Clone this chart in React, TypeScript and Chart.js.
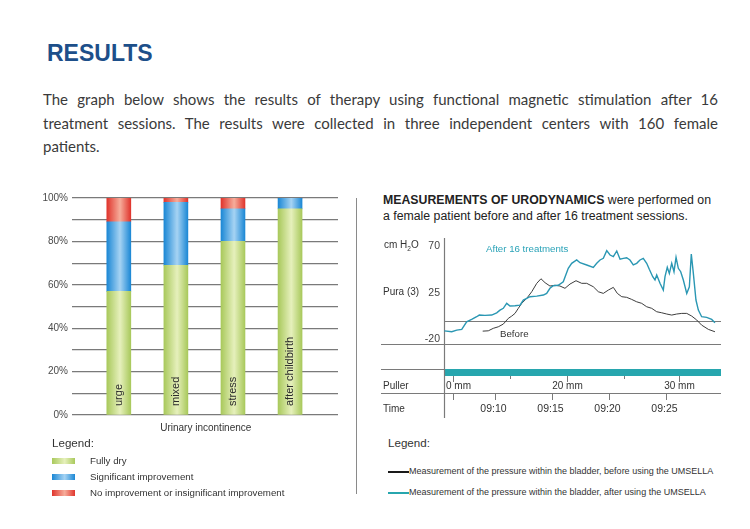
import React, { useEffect, useRef } from 'react';
import { Chart, registerables } from 'chart.js';

Chart.register(...registerables);

const FONT = '"Liberation Sans", Arial, Helvetica, sans-serif';
Chart.defaults.font.family = FONT;

// ---------- Bar chart data ----------
const categories = ['urge', 'mixed', 'stress', 'after childbirth'];
const fullyDry = [57, 69, 80, 95];
const significantImprovement = [32, 29, 15, 5];
const noImprovement = [11, 2, 5, 0];
const percentTicks = [0, 20, 40, 60, 80, 100];

// ---------- Urodynamics data (x: minutes after 09:00, y: cm H2O) ----------
const afterTime = [5.55, 6.2, 6.64, 7.08, 7.51, 7.95, 8.39, 8.62, 9.12, 9.71, 10.15, 10.44, 10.73, 11.03, 11.32, 11.76, 12.2, 12.49, 12.79, 13.08, 13.67, 14.25, 14.54, 14.83, 15.12, 15.56, 16.0, 16.44, 16.74, 17.18, 17.47, 18.06, 18.64, 18.94, 19.23, 19.52, 19.82, 20.11, 20.4, 20.7, 20.99, 21.28, 21.57, 21.86, 22.15, 22.45, 22.74, 23.03, 23.33, 23.56, 23.86, 24.06, 24.21, 24.5, 24.79, 24.94, 25.14, 25.32, 25.53, 25.73, 25.91, 26.11, 26.32, 26.55, 26.85, 27.08, 27.25, 27.43, 27.66, 27.87, 28.16, 28.6, 29.04, 29.33];
const afterPressure = [-11.8, -12.7, -11.1, -10.4, -3.1, -0.8, 1.8, 3.4, 3.1, 3.4, 5.6, 8.2, 9.9, 14.7, 12.1, 12.4, 13.0, 17.9, 19.5, 21.1, 21.7, 22.7, 24.3, 29.2, 31.7, 32.1, 35.5, 48.5, 53.3, 56.5, 53.9, 51.7, 49.4, 53.3, 56.5, 58.1, 65.5, 61.3, 59.7, 65.2, 57.2, 58.1, 58.7, 56.5, 51.7, 53.3, 56.5, 58.1, 53.3, 47.5, 40.4, 37.2, 42.0, 34.0, 27.5, 40.4, 49.4, 43.6, 53.3, 45.2, 59.1, 48.5, 45.2, 37.2, 24.3, 30.7, 62.3, 43.6, 17.9, 8.2, 1.8, 1.2, -0.8, -4.0];
const beforeTime = [8.92, 9.41, 9.85, 10.29, 10.73, 11.17, 11.47, 11.76, 12.05, 12.35, 12.79, 13.23, 13.67, 14.04, 14.4, 14.83, 15.27, 15.71, 16.15, 16.59, 17.12, 17.62, 18.06, 18.64, 19.08, 19.52, 19.96, 20.4, 20.75, 21.14, 21.57, 22.01, 22.45, 22.89, 23.33, 23.77, 24.21, 24.65, 25.09, 25.53, 25.97, 26.41, 26.85, 27.29, 27.73, 28.16, 28.75, 29.33];
const beforePressure = [-12.1, -11.8, -9.4, -7.9, -5.3, 0.2, 2.4, 5.0, 9.9, 14.7, 19.5, 25.9, 34.0, 38.4, 34.6, 31.4, 32.1, 31.4, 29.2, 33.3, 36.5, 34.0, 34.0, 30.7, 25.9, 24.3, 27.5, 30.1, 24.3, 21.1, 20.5, 18.5, 16.2, 14.7, 11.4, 9.9, 6.6, 5.6, 4.4, 3.4, 4.4, 5.0, 5.0, 2.4, -1.4, -6.3, -10.4, -12.7];
const pressureTicks = [-20, 25, 70];
const baselineValue = -2;
const timeTickValues = [6.34, 10, 15, 20, 25];
const timeTickLabels = ['', '09:10', '09:15', '09:20', '09:25'];
const pullerTickValues = [6.34, 11.3, 16.3, 21.3, 26.2];
const pullerTickLabels = ['0 mm', '', '20 mm', '', '30 mm'];

const GREEN = ['#a9c95c', '#e6f0bc'];
const BLUE = ['#1c88d5', '#a6d3f3'];
const RED = ['#e0352d', '#f6ad9b'];
const TEAL_LINE = '#2a97b3';
const TEAL_BAR = '#27a6ae';

function gradientFill(colors: string[]) {
  return (ctx: any) => {
    const chart = ctx.chart;
    const xs = chart.scales && chart.scales.x;
    if (!xs || !chart.chartArea || ctx.type !== 'data') return colors[0];
    const xv = ctx.parsed ? ctx.parsed.x : ctx.dataIndex;
    const cx = xs.getPixelForValue(xv);
    const g = chart.ctx.createLinearGradient(cx - 12, 0, cx + 12, 0);
    g.addColorStop(0, colors[0]);
    g.addColorStop(0.55, colors[1]);
    g.addColorStop(1, colors[0]);
    return g;
  };
}

const insideLabels = {
  id: 'insideLabels',
  afterDatasetsDraw(chart: any) {
    const { ctx, scales } = chart;
    ctx.save();
    ctx.font = `11px ${FONT}`;
    ctx.fillStyle = '#2b2b2b';
    ctx.textAlign = 'left';
    ctx.textBaseline = 'middle';
    categories.forEach((c, i) => {
      const px = scales.x.getPixelForValue(i);
      const py = scales.y.getPixelForValue(0) - 9;
      ctx.save();
      ctx.translate(px, py);
      ctx.rotate(-Math.PI / 2);
      ctx.fillText(c, 0, 0);
      ctx.restore();
    });
    ctx.restore();
  },
};

const urodynamicsFrame = {
  id: 'urodynamicsFrame',
  beforeDatasetsDraw(chart: any) {
    const { ctx, chartArea: a, scales } = chart;
    const x = scales.x;
    const y = scales.y;
    const lineLeft = 21;
    const labelLeft = 23;
    ctx.save();
    ctx.strokeStyle = '#7a7a7a';
    ctx.lineWidth = 1.2;
    const hline = (yy: number, x0: number) => {
      ctx.beginPath();
      ctx.moveTo(x0, yy);
      ctx.lineTo(a.right, yy);
      ctx.stroke();
    };
    hline(Math.round(y.getPixelForValue(baselineValue)) + 0.5, a.left);
    hline(a.bottom + 0.5, lineLeft);
    const pullerTop = a.bottom + 25;
    hline(pullerTop + 0.5, lineLeft);
    ctx.fillStyle = TEAL_BAR;
    ctx.fillRect(a.left, pullerTop, a.right - a.left, 7);
    const timeTop = a.bottom + 49;
    hline(timeTop + 0.5, lineLeft);
    ctx.beginPath();
    ctx.moveTo(a.left + 0.5, a.top);
    ctx.lineTo(a.left + 0.5, a.bottom + 74);
    ctx.stroke();

    ctx.lineWidth = 1;
    ctx.font = `10px ${FONT}`;
    ctx.fillStyle = '#333';
    ctx.textBaseline = 'middle';
    pullerTickValues.forEach((v, i) => {
      const px = Math.round(x.getPixelForValue(v)) + 0.5;
      const lab = pullerTickLabels[i];
      const len = lab ? 6 : 3;
      ctx.beginPath();
      ctx.moveTo(px, pullerTop + 7);
      ctx.lineTo(px, pullerTop + 7 + len);
      ctx.stroke();
      if (lab) {
        const w = ctx.measureText(lab).width;
        const lx = Math.max(px - w / 2, a.left + 2);
        ctx.textAlign = 'left';
        ctx.fillText(lab, lx, a.bottom + 42);
      }
    });
    ctx.font = `10.5px ${FONT}`;
    timeTickValues.forEach((v, i) => {
      const px = Math.round(x.getPixelForValue(v)) + 0.5;
      ctx.beginPath();
      ctx.moveTo(px, timeTop);
      ctx.lineTo(px, timeTop + 7);
      ctx.stroke();
      if (timeTickLabels[i]) {
        ctx.textAlign = 'center';
        ctx.fillText(timeTickLabels[i], px - 2, a.bottom + 65);
      }
    });
    ctx.font = `10px ${FONT}`;
    ctx.textAlign = 'left';
    ctx.fillText('Puller', labelLeft, a.bottom + 42);
    ctx.fillText('Time', labelLeft, a.bottom + 65);
    ctx.restore();
  },
};

function Label(props: any) {
  const { x, y, size, children, color = '#333', align = 'left', weight = 'normal', family = FONT } = props;
  const style: any = {
    position: 'absolute',
    left: x,
    top: y - size * 0.56,
    fontSize: size,
    lineHeight: `${size}px`,
    whiteSpace: 'nowrap',
    color,
    fontWeight: weight,
    fontFamily: family,
  };
  if (align === 'center') style.transform = 'translateX(-50%)';
  return <div style={style}>{children}</div>;
}

function Swatch({ x, y, colors }: any) {
  return (
    <div
      style={{
        position: 'absolute',
        left: x,
        top: y - 3,
        width: 23,
        height: 6,
        background: `linear-gradient(to right, ${colors[0]}, ${colors[1]} 55%, ${colors[0]})`,
      }}
    />
  );
}

const paragraphLines = [
  'The graph below shows the results of therapy using functional magnetic stimulation after 16',
  'treatment sessions. The results were collected in three independent centers with 160 female',
  'patients.',
];

export default function App() {
  const barRef = useRef<HTMLCanvasElement>(null);
  const lineRef = useRef<HTMLCanvasElement>(null);

  useEffect(() => {
    const bar = new Chart(barRef.current as HTMLCanvasElement, {
      type: 'bar',
      data: {
        datasets: [
          { label: 'Fully dry', data: fullyDry.map((v, i) => ({ x: i, y: v })), backgroundColor: gradientFill(GREEN), borderWidth: 0, barThickness: 24 },
          { label: 'Significant improvement', data: significantImprovement.map((v, i) => ({ x: i, y: v })), backgroundColor: gradientFill(BLUE), borderWidth: 0, barThickness: 24 },
          { label: 'No improvement or insignificant improvement', data: noImprovement.map((v, i) => ({ x: i, y: v })), backgroundColor: gradientFill(RED), borderWidth: 0, barThickness: 24 },
        ],
      } as any,
      options: {
        animation: false,
        responsive: false,
        events: [],
        layout: { padding: { top: 13, right: 19, bottom: 9, left: 0 } },
        plugins: { legend: { display: false }, tooltip: { enabled: false } },
        scales: {
          x: { type: 'linear', min: -0.82, max: 3.84, offset: false, stacked: true, display: false, grid: { offset: false } },
          y: {
            stacked: true,
            min: 0,
            max: 100,
            afterFit: (s: any) => { s.width = 72; },
            ticks: {
              stepSize: 10,
              autoSkip: false,
              padding: 4,
              color: '#4a4a4a',
              font: { size: 10, family: FONT },
              callback: (v: any) => (percentTicks.includes(Number(v)) ? `${v}%` : ''),
            },
            grid: { color: '#7a7a7a', lineWidth: 1.2, drawTicks: false },
            border: { display: false },
          },
        },
      } as any,
      plugins: [insideLabels],
    });

    const line = new Chart(lineRef.current as HTMLCanvasElement, {
      type: 'line',
      data: {
        datasets: [
          { label: 'After 16 treatments', data: afterTime.map((t, i) => ({ x: t, y: afterPressure[i] })), borderColor: TEAL_LINE, borderWidth: 1.4, pointRadius: 0, tension: 0 },
          { label: 'Before', data: beforeTime.map((t, i) => ({ x: t, y: beforePressure[i] })), borderColor: '#3d3d3d', borderWidth: 1, pointRadius: 0, tension: 0 },
        ],
      } as any,
      options: {
        animation: false,
        responsive: false,
        events: [],
        layout: { padding: { top: 13, right: 29, bottom: 86, left: 0 } },
        plugins: { legend: { display: false }, tooltip: { enabled: false } },
        scales: {
          x: { type: 'linear', min: 5.52, max: 29.86, display: false },
          y: {
            min: -24.5,
            max: 77.7,
            afterFit: (s: any) => { s.width = 84; },
            afterBuildTicks: (s: any) => { s.ticks = pressureTicks.map((v) => ({ value: v })); },
            ticks: { padding: 4, color: '#444', font: { size: 10.5, family: FONT } },
            grid: { display: false, drawTicks: false },
            border: { display: false },
          },
        },
      } as any,
      plugins: [urodynamicsFrame],
    });

    return () => {
      bar.destroy();
      line.destroy();
    };
  }, []);

  return (
    <div style={{ position: 'fixed', left: 0, top: 0, width: 750, height: 529, background: '#fff', overflow: 'hidden', fontFamily: FONT, color: '#333' }}>
      <div style={{ position: 'absolute', left: 47, top: 42, fontSize: 23, lineHeight: '23px', fontWeight: 'bold', color: '#1d4f8a', fontFamily: FONT }}>RESULTS</div>
      <div style={{ position: 'absolute', left: 43, top: 88, width: 675, fontFamily: 'Lato, "Open Sans", sans-serif', fontSize: 15, lineHeight: '23.5px', color: '#3a3a3a' }}>
        {paragraphLines.map((l, i) => (
          <div key={i} style={{ textAlign: 'justify', textAlignLast: i < paragraphLines.length - 1 ? 'justify' : 'left' } as any}>{l}</div>
        ))}
      </div>

      <canvas ref={barRef} width={357} height={240} style={{ position: 'absolute', left: 0, top: 185, width: 357, height: 240 }} />
      <Label x={205.8} y={428.5} size={10} align="center">Urinary incontinence</Label>
      <Label x={52} y={443} size={11.6}>Legend:</Label>
      <Swatch x={52} y={461} colors={GREEN} />
      <Swatch x={52} y={477} colors={BLUE} />
      <Swatch x={52} y={493} colors={RED} />
      <Label x={90} y={461.5} size={9.7}>Fully dry</Label>
      <Label x={90} y={477} size={9.7}>Significant improvement</Label>
      <Label x={90} y={493} size={9.7}>No improvement or insignificant improvement</Label>

      <div style={{ position: 'absolute', left: 356, top: 198, width: 1, height: 296, background: '#8a8a8a' }} />

      <div style={{ position: 'absolute', left: 383, top: 193, fontSize: 12.3, lineHeight: '15.5px', whiteSpace: 'nowrap', color: '#222', fontFamily: FONT }}>
        <b>MEASUREMENTS OF URODYNAMICS</b> were performed on<br />a female patient before and after 16 treatment sessions.
      </div>
      <canvas ref={lineRef} width={390} height={205} style={{ position: 'absolute', left: 360, top: 225, width: 390, height: 205 }} />
      <Label x={384} y={245.5} size={10}>
        cm H<span style={{ fontSize: 6.5, position: 'relative', top: 3 }}>2</span>O
      </Label>
      <Label x={383} y={293} size={10}>Pura (3)</Label>
      <Label x={486} y={249} size={9.7} color="#2ba3b8">After 16 treatments</Label>
      <Label x={500} y={334} size={9.7}>Before</Label>

      <Label x={388} y={443} size={11.6}>Legend:</Label>
      <div style={{ position: 'absolute', left: 388, top: 471, width: 21, height: 2, background: '#1a1a1a' }} />
      <div style={{ position: 'absolute', left: 388, top: 492, width: 21, height: 2, background: TEAL_BAR }} />
      <Label x={409} y={472.5} size={9}>Measurement of the pressure within the bladder, before using the UMSELLA</Label>
      <Label x={409} y={493.5} size={9}>Measurement of the pressure within the bladder, after using the UMSELLA</Label>
    </div>
  );
}
